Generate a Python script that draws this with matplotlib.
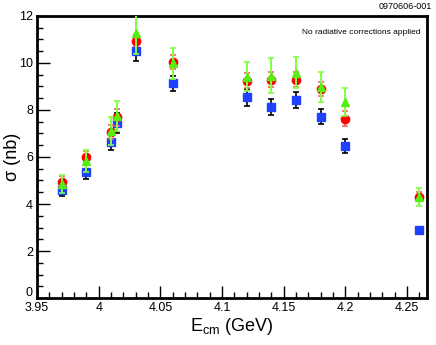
import matplotlib
matplotlib.use('Agg')
import matplotlib.pyplot as plt
import matplotlib.transforms as mtransforms
from matplotlib.ticker import MultipleLocator

plt.rcParams['font.family'] = ['Liberation Sans', 'DejaVu Sans']

# centre-of-mass energies (GeV)
ecm = [3.97, 3.99, 4.01, 4.015, 4.03, 4.06, 4.12, 4.14, 4.16, 4.18, 4.20, 4.26]

# blue squares
sig_blue = [4.60, 5.37, 6.65, 7.43, 10.52, 9.14, 8.54, 8.14, 8.43, 7.71, 6.47, 2.89]
err_blue = [0.26, 0.30, 0.35, 0.43, 0.43, 0.32, 0.36, 0.34, 0.33, 0.32, 0.30, 0.15]

# red circles
sig_red = [4.95, 6.02, 7.05, 7.68, 10.95, 10.04, 9.25, 9.28, 9.28, 8.88, 7.62, 4.31]
err_red = [0.22, 0.25, 0.30, 0.35, 0.25, 0.28, 0.33, 0.32, 0.32, 0.30, 0.32, 0.20]

# green triangles
sig_green = [4.85, 5.82, 7.10, 7.75, 11.26, 9.98, 9.42, 9.45, 9.58, 8.99, 8.33, 4.30]
err_green = [0.40, 0.48, 0.60, 0.65, 0.90, 0.65, 0.60, 0.75, 0.66, 0.64, 0.60, 0.37]

xticks = [3.95, 4.0, 4.05, 4.1, 4.15, 4.2, 4.25]
xticklabels = ['3.95', '4', '4.05', '4.1', '4.15', '4.2', '4.25']
yticks = [0, 2, 4, 6, 8, 10, 12]

fig = plt.figure(figsize=(4.36, 3.45), dpi=100)
ax = fig.add_axes([0.085, 0.136, 0.894, 0.818])

ax.errorbar(ecm, sig_blue, yerr=err_blue, fmt='s', color='#2040ff', ms=6,
            ecolor='black', elinewidth=1.2, capsize=2, capthick=1.2, zorder=3)
ax.errorbar(ecm, sig_red, yerr=err_red, fmt='o', color='#ff0000', ms=6,
            ecolor='#ff6060', elinewidth=1.2, capsize=2, capthick=1.2, zorder=4)
ax.errorbar(ecm, sig_green, yerr=err_green, fmt='^', color='#55ee11', ms=6,
            ecolor='#80ff40', elinewidth=1.4, capsize=2, capthick=1.2, zorder=5)

ax.set_xlim(3.95, 4.266)
ax.set_ylim(0, 12)
ax.set_xticks(xticks)
ax.set_xticklabels(xticklabels)
ax.set_yticks(yticks)
ax.set_yticklabels([str(v) for v in yticks])
ax.xaxis.set_minor_locator(MultipleLocator(0.01))
ax.yaxis.set_minor_locator(MultipleLocator(0.5))
ax.tick_params(which='both', direction='in', top=False, right=False,
               labelsize=9, width=1)
ax.tick_params(which='major', length=9, pad=3)
ax.tick_params(which='minor', length=4)
for s in ax.spines.values():
    s.set_linewidth(2)

# lift the "0" label off the x tick labels
offset = mtransforms.ScaledTranslation(0, 5 / 72, fig.dpi_scale_trans)
for lbl in ax.get_yticklabels():
    if lbl.get_text() == '0':
        lbl.set_transform(lbl.get_transform() + offset)

ax.set_xlabel('E$_{\\mathregular{cm}}$ (GeV)', fontsize=13, labelpad=1)
ax.set_ylabel('σ (nb)', fontsize=13, va='center')
ax.yaxis.set_label_coords(-0.064, 0.5)

ax.text(0.985, 0.955, 'No radiative corrections applied', transform=ax.transAxes,
        ha='right', va='top', fontsize=6)
fig.text(0.99, 0.995, '0970606-001', ha='right', va='top', fontsize=6.5)

fig.savefig('out.png', dpi=100)
